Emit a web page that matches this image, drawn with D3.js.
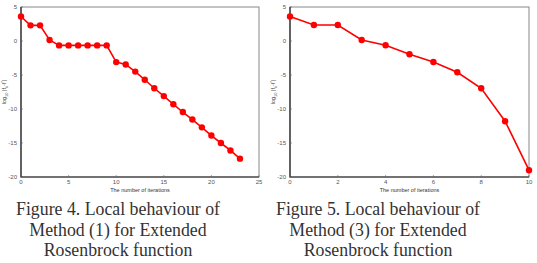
<!DOCTYPE html>
<html>
<head>
<meta charset="utf-8">
<script src="https://cdn.jsdelivr.net/npm/d3@7"></script>
<style>
  body { margin: 0; background: #fff; }
  svg { display: block; }
</style>
</head>
<body>
<svg id="chart" width="537" height="263"></svg>
<script>
// Figure 4: Method (1)
const iters1 = d3.range(0, 24);
const logErr1 = [3.6, 2.3, 2.3, 0.15, -0.65, -0.65, -0.65, -0.65, -0.65, -0.65,
  -3.1, -3.45, -4.5, -5.7, -6.95, -8.1, -9.3, -10.45, -11.55, -12.7, -13.9, -15.0, -16.1, -17.3];

// Figure 5: Method (3)
const iters2 = d3.range(0, 11);
const logErr2 = [3.6, 2.35, 2.35, 0.15, -0.62, -1.95, -3.08, -4.6, -6.95, -11.8, -19.0];

const yTicks = [5, 0, -5, -10, -15, -20];
const xTicks1 = [0, 5, 10, 15, 20, 25];
const xTicks2 = [0, 2, 4, 6, 8, 10];

const captions1 = ["Figure 4. Local behaviour of", "Method (1) for Extended", "Rosenbrock function"];
const captions2 = ["Figure 5. Local behaviour of", "Method (3) for Extended", "Rosenbrock function"];

const svg = d3.select("#chart");

function drawPanel(left, right, xs, ys, xDomain, xTicks, captions, capX) {
  const top = 7, bottom = 177;
  const x = d3.scaleLinear().domain(xDomain).range([left, right]);
  const y = d3.scaleLinear().domain([-20, 5]).range([bottom, top]);
  const g = svg.append("g");

  // frame
  g.append("rect")
    .attr("x", left).attr("y", top)
    .attr("width", right - left).attr("height", bottom - top)
    .attr("fill", "none").attr("stroke", "#888").attr("stroke-width", 1);
  g.append("path")
    .attr("d", `M${left},${top}V${bottom}H${right}`)
    .attr("fill", "none").attr("stroke", "#222").attr("stroke-width", 1.2);

  // y ticks
  yTicks.forEach(t => {
    g.append("line")
      .attr("x1", left).attr("x2", left + 2)
      .attr("y1", y(t)).attr("y2", y(t))
      .attr("stroke", "#666").attr("stroke-width", 0.6);
    g.append("text")
      .attr("x", left - 4).attr("y", y(t) + 2)
      .attr("text-anchor", "end")
      .attr("font-family", "Liberation Sans, Arial, sans-serif")
      .attr("font-size", 6).attr("fill", "#555")
      .text(t);
  });

  // x ticks
  xTicks.forEach(t => {
    g.append("line")
      .attr("x1", x(t)).attr("x2", x(t))
      .attr("y1", bottom).attr("y2", bottom - 2)
      .attr("stroke", "#666").attr("stroke-width", 0.6);
    g.append("text")
      .attr("x", x(t)).attr("y", bottom + 7)
      .attr("text-anchor", "middle")
      .attr("font-family", "Liberation Sans, Arial, sans-serif")
      .attr("font-size", 6).attr("fill", "#555")
      .text(t);
  });

  // axis labels
  g.append("text")
    .attr("x", (left + right) / 2).attr("y", bottom + 15)
    .attr("text-anchor", "middle")
    .attr("font-family", "Liberation Sans, Arial, sans-serif")
    .attr("font-size", 5.5).attr("fill", "#333")
    .text("The number of iterations");

  const yl = g.append("text")
    .attr("transform", `translate(${left - 15},${y(-7.5)}) rotate(-90)`)
    .attr("text-anchor", "middle")
    .attr("font-family", "Liberation Sans, Arial, sans-serif")
    .attr("font-size", 5.5).attr("fill", "#444");
  yl.append("tspan").text("log");
  yl.append("tspan").attr("font-size", 4).attr("dy", 1.5).text("10");
  yl.append("tspan").attr("dy", -1.5).text(" |f");
  yl.append("tspan").attr("font-size", 4).attr("dy", 1.5).text("k");
  yl.append("tspan").attr("dy", -1.5).text("-f");
  yl.append("tspan").attr("font-size", 4).attr("dy", -2).text("*");
  yl.append("tspan").attr("dy", 2).text("|");

  const data = xs.map((d, i) => [d, ys[i]]);
  g.append("path")
    .datum(data)
    .attr("d", d3.line().x(d => x(d[0])).y(d => y(d[1])))
    .attr("fill", "none").attr("stroke", "#f00").attr("stroke-width", 1.6);
  g.selectAll("circle")
    .data(data)
    .enter()
    .append("circle")
    .attr("cx", d => x(d[0]))
    .attr("cy", d => y(d[1]))
    .attr("r", 3.2)
    .attr("fill", "#f00");

  // caption
  captions.forEach((c, i) => {
    svg.append("text")
      .attr("x", capX).attr("y", 215 + i * 20.5)
      .attr("text-anchor", "middle")
      .attr("font-family", "Liberation Serif, Times New Roman, serif")
      .attr("font-size", 17.8).attr("fill", "#333")
      .text(c);
  });
}

drawPanel(21, 259, iters1, logErr1, [0, 25], xTicks1, captions1, 118);
drawPanel(290, 529, iters2, logErr2, [0, 10], xTicks2, captions2, 378);
</script>
</body>
</html>
